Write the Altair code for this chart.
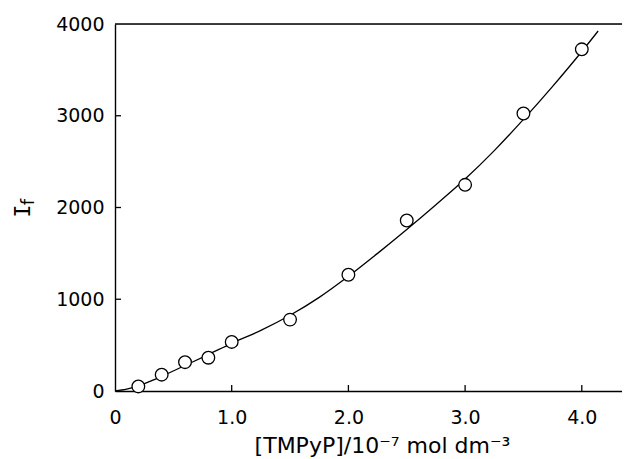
import altair as alt
import pandas as pd

# measured points
conc = [0.2, 0.4, 0.6, 0.8, 1.0, 1.5, 2.0, 2.5, 3.0, 3.5, 4.0]
intensity = [50, 178, 314, 363, 535, 778, 1267, 1858, 2247, 3024, 3724]

# fitted curve
fit_x = [0, 0.1, 0.2, 0.3, 0.4, 0.6, 0.8, 1.0, 1.25, 1.5, 1.75, 2.0, 2.25, 2.5,
         2.75, 3.0, 3.25, 3.5, 3.75, 4.0, 4.14]
fit_y = [0, 20, 55, 105, 160, 278, 397, 520, 660, 825, 1020, 1250, 1500, 1760,
         2030, 2310, 2620, 2960, 3320, 3700, 3924]

x_ticks = [0, 1, 2, 3, 4]
x_inner_ticks = [1, 2, 3, 4]
y_ticks = [0, 1000, 2000, 3000, 4000]
y_inner_ticks = [1000, 2000, 3000]

W, H = 507, 367
FONT = "DejaVu Sans"
XDOM = [0, W / 116.7]
YDOM = [0, 4000]

xs = alt.Scale(domain=XDOM, nice=False, zero=False)
ys = alt.Scale(domain=YDOM, nice=False)

pts = pd.DataFrame({"x": conc, "y": intensity})
fit = pd.DataFrame({"x": fit_x, "y": fit_y})

x_axis = alt.Axis(
    values=x_ticks,
    labelExpr="datum.value == 0 ? '0' : format(datum.value, '.1f')",
    ticks=False, tickSize=0, labelPadding=17, labelFont=FONT, labelFontSize=19,
    labelFlush=False,
    labelColor="black", domainColor="black", domainWidth=1.4, grid=False,
    title="[TMPyP]/10⁻⁷ mol dm⁻³", titleFont=FONT, titleFontSize=22,
    titleFontWeight="normal", titleColor="black", titleX=267, titleY=61,
    titleBaseline="alphabetic", titleAlign="center",
)
y_axis = alt.Axis(
    values=y_ticks, format="d",
    ticks=False, tickSize=0, labelPadding=11, labelFont=FONT, labelFontSize=19,
    labelFlush=False,
    labelColor="black", domainColor="black", domainWidth=1.4, grid=False,
    title=None,
)

X = alt.X("x:Q", scale=xs, axis=x_axis)
Y = alt.Y("y:Q", scale=ys, axis=y_axis)

line = alt.Chart(fit).mark_line(color="black", strokeWidth=1.3, interpolate="monotone").encode(
    x=X, y=Y,
)

points = alt.Chart(pts).mark_point(
    shape="circle", filled=True, fill="white", stroke="black", strokeWidth=1.3,
    size=160, opacity=1
).encode(x=X, y=Y)

xt = alt.Chart(pd.DataFrame({"x": x_inner_ticks})).mark_rule(color="black", strokeWidth=1.3).encode(
    x=X,
    y=alt.value(H),
    y2=alt.value(H - 6),
)
yt = alt.Chart(pd.DataFrame({"y": y_inner_ticks})).mark_rule(color="black", strokeWidth=1.3).encode(
    y=Y,
    x=alt.value(0),
    x2=alt.value(6),
)
top = alt.Chart(pd.DataFrame({"a": [0]})).mark_rule(color="black", strokeWidth=1.4).encode(
    x=alt.value(0), x2=alt.value(W), y=alt.value(0)
)

lab = pd.DataFrame({"t": ["I"], "s": ["f"]})
ytitle_I = alt.Chart(lab).mark_text(
    font="DejaVu Sans Mono", fontSize=22, angle=270, align="center",
    baseline="alphabetic", color="black"
).encode(text="t:N", x=alt.value(-85), y=alt.value(187))
ytitle_f = alt.Chart(lab).mark_text(
    font=FONT, fontSize=18, angle=270, align="center",
    baseline="alphabetic", color="black"
).encode(text="s:N", x=alt.value(-81), y=alt.value(178))

chart = alt.layer(line, points, xt, yt, top, ytitle_I, ytitle_f).properties(
    width=W, height=H,
    autosize=alt.AutoSizeParams(type="none"),
    padding={"left": 107, "top": 16, "right": 0, "bottom": 68},
).configure_view(strokeWidth=0).configure(background="white")

chart.save("out.html", embed_options={"renderer": "svg", "actions": False})
